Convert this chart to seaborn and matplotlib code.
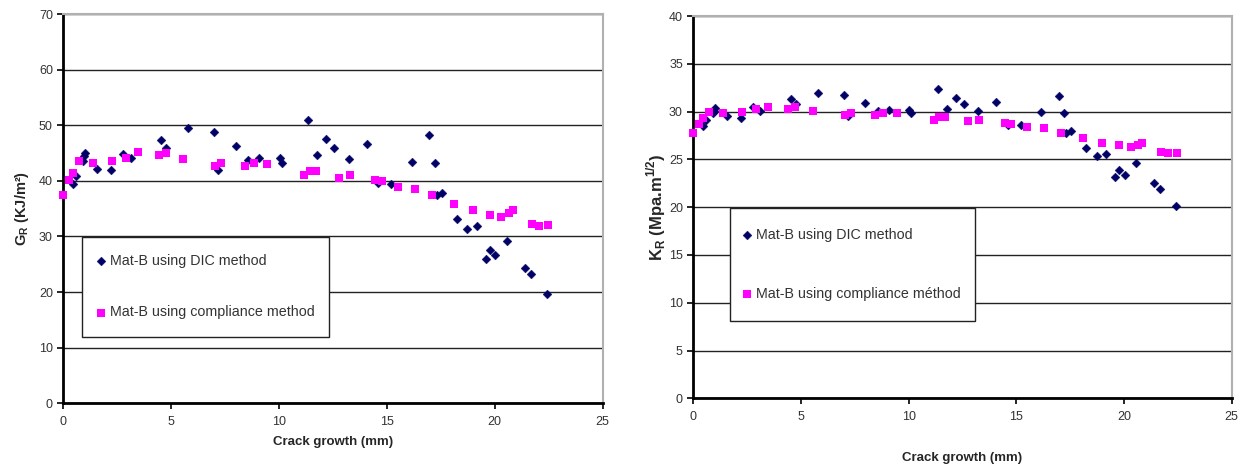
# Courbes R : G_R et K_R en fonction de l'avancée de fissure (Mat-B)

import matplotlib
matplotlib.use("Agg")
import matplotlib.pyplot as plt
from matplotlib.patches import Rectangle
import seaborn as sns

# --- Données ---
crack_dic = [0.43, 0.60, 0.93, 0.97, 1.02, 1.57, 2.22, 2.78, 3.12, 4.55,
             4.75, 5.77, 6.98, 7.19, 7.99, 8.58, 9.08, 10.04, 10.12, 11.36,
             11.78, 12.18, 12.56, 13.22, 14.08, 14.6, 15.2, 16.14, 16.96, 17.22,
             17.3, 17.55, 18.23, 18.73, 19.17, 19.6, 19.77, 20.03, 20.55, 21.38,
             21.67, 22.43]
g_dic = [39.5, 40.8, 43.6, 44.4, 45.0, 42.1, 42.0, 44.8, 44.1, 47.4,
         45.9, 49.5, 48.8, 42.0, 46.2, 43.7, 44.2, 44.2, 43.2, 51.0,
         44.6, 47.6, 45.9, 43.9, 46.7, 39.7, 39.4, 43.4, 48.3, 43.2,
         37.4, 37.8, 33.2, 31.3, 31.8, 25.9, 27.6, 26.6, 29.2, 24.4,
         23.2, 19.7]
k_dic = [28.5, 29.1, 29.9, 30.1, 30.4, 29.5, 29.3, 30.5, 30.1, 31.3,
         30.8, 31.95, 31.7, 29.5, 30.9, 30.1, 30.2, 30.2, 29.8, 32.4,
         30.3, 31.4, 30.8, 30.1, 31.0, 28.6, 28.6, 29.97, 31.6, 29.9,
         27.8, 27.95, 26.2, 25.4, 25.6, 23.2, 23.9, 23.4, 24.6, 22.5,
         21.9, 20.1]

crack_compl = [0, 0.27, 0.44, 0.75, 1.38, 2.28, 2.92, 3.46, 4.42, 4.74,
               5.56, 7.03, 7.32, 8.42, 8.83, 9.44, 11.16, 11.43, 11.7, 12.76,
               13.28, 14.46, 14.76, 15.49, 16.3, 17.08, 18.11, 18.97, 19.79, 20.31,
               20.66, 20.83, 21.72, 22.04, 22.45]
g_compl = [37.5, 40.1, 41.5, 43.5, 43.2, 43.5, 44.2, 45.2, 44.7, 45.0,
           43.9, 42.6, 43.3, 42.6, 43.2, 43.1, 41.0, 41.8, 41.8, 40.5,
           41.0, 40.1, 40.0, 38.9, 38.6, 37.5, 35.8, 34.7, 33.9, 33.5,
           34.2, 34.7, 32.3, 31.8, 32.0]
k_compl = [27.8, 28.7, 29.3, 30.0, 29.9, 30.0, 30.3, 30.5, 30.3, 30.45,
           30.1, 29.65, 29.9, 29.65, 29.9, 29.86, 29.1, 29.4, 29.4, 29.0,
           29.1, 28.8, 28.7, 28.4, 28.3, 27.8, 27.2, 26.7, 26.5, 26.3,
           26.5, 26.7, 25.8, 25.7, 25.7]

# --- Style ---
sns.set_style("white")
plt.rcParams["font.family"] = ["Liberation Sans", "DejaVu Sans"]
plt.rcParams["mathtext.fontset"] = "custom"
plt.rcParams["mathtext.rm"] = "Liberation Sans"
plt.rcParams["mathtext.bf"] = "Liberation Sans:bold"

fig = plt.figure(figsize=(12.46, 4.68), dpi=100)
ax1 = fig.add_axes([0.0508, 0.1382, 0.4329, 0.8318])
ax2 = fig.add_axes([0.5564, 0.1489, 0.4321, 0.8169])

navy = "#000066"
magenta = "#ff00ff"


def style_axes(ax, ymax, ystep):
    ax.set_xlim(0, 25)
    ax.set_ylim(0, ymax)
    ax.set_xticks(range(0, 26, 5))
    ax.set_yticks(range(0, ymax + 1, ystep))
    ax.yaxis.grid(True, color="#222222", linewidth=1)
    ax.xaxis.grid(False)
    ax.set_axisbelow(True)
    for side in ["left", "bottom"]:
        ax.spines[side].set_color("black")
        ax.spines[side].set_linewidth(2)
    for side in ["top", "right"]:
        ax.spines[side].set_color("#b0b0b0")
        ax.spines[side].set_linewidth(1.5)
    ax.tick_params(axis="both", direction="out", length=4, width=1.2,
                   color="black", labelsize=9, labelcolor="#333333",
                   bottom=True, left=True)
    ax.tick_params(axis="x", pad=5)


for ax, ydic, ycomp, lab2 in [
    (ax1, g_dic, g_compl, "Mat-B using compliance method"),
    (ax2, k_dic, k_compl, "Mat-B using compliance méthod"),
]:
    sns.scatterplot(x=crack_dic, y=ydic, ax=ax, marker="D", s=20,
                    color=navy, edgecolor=navy, linewidth=0.3,
                    label="Mat-B using DIC method", zorder=3, clip_on=False)
    sns.scatterplot(x=crack_compl, y=ycomp, ax=ax, marker="s", s=30,
                    color=magenta, edgecolor=magenta, linewidth=0,
                    label=lab2, zorder=3, clip_on=False)

style_axes(ax1, 70, 10)
style_axes(ax2, 40, 5)

ax1.set_xlabel("Crack growth (mm)", fontsize=9.5, fontweight="bold", labelpad=6)
ax2.set_xlabel("Crack growth (mm)", fontsize=9.5, fontweight="bold", labelpad=21)
ax1.set_ylabel(r"G$_\mathbf{R}$ (KJ/m²)", fontsize=10.5, fontweight="bold", labelpad=6)
ax2.set_ylabel(r"K$_\mathbf{R}$ (Mpa.m$^\mathbf{1/2}$)", fontsize=12, fontweight="bold", labelpad=0.5)

# Cadres de légende (x0, y0, largeur, hauteur en coordonnées d'axes)
boxes = [(ax1, (0.0341, 0.1695, 0.459, 0.2585), (0.062, 0.2995), 2.6),
         (ax2, (0.0682, 0.2022, 0.455, 0.2948), (0.0923, 0.3504), 3.1)]
for ax, rect, anchor, spacing in boxes:
    ax.add_patch(Rectangle(rect[:2], rect[2], rect[3], transform=ax.transAxes,
                           facecolor="white", edgecolor="#222222",
                           linewidth=1, zorder=2.5))
    leg = ax.legend(loc="center left", bbox_to_anchor=anchor, fontsize=10.3,
                    frameon=False, borderpad=0, labelspacing=spacing,
                    handlelength=0.6, handletextpad=0.3, borderaxespad=0)
    leg.set_zorder(4)
    for t in leg.get_texts():
        t.set_color("#333333")

fig.savefig("out.png", dpi=100)
